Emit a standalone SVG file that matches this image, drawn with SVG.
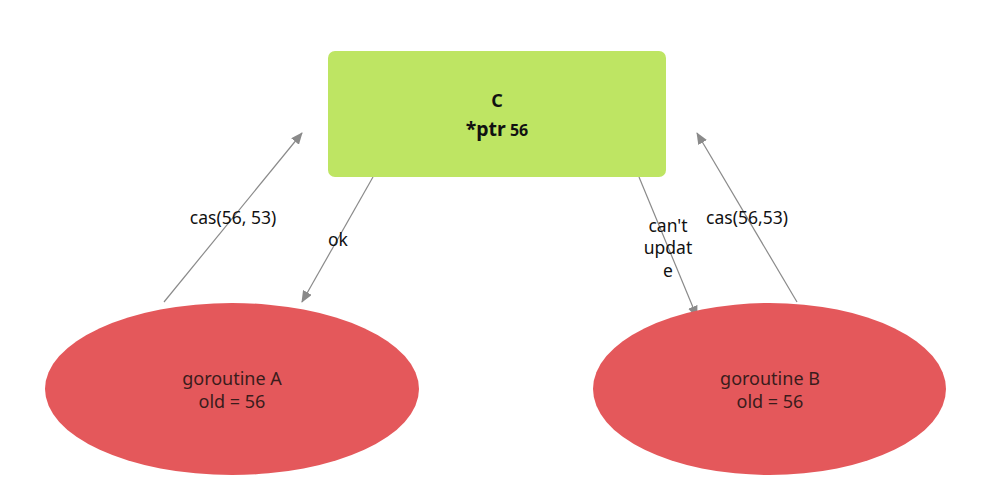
<svg xmlns="http://www.w3.org/2000/svg" width="988" height="490" viewBox="0 0 988 490">
<style>
.lbl{font-family:"Noto Sans","Open Sans","Liberation Sans",sans-serif;font-size:17.5px;fill:#111;text-anchor:middle}
.ntxt{font-family:"Noto Sans","Open Sans","Liberation Sans",sans-serif;font-size:18px;fill:#3a1c1c;text-anchor:middle}
.btxt{font-family:"Noto Sans","Open Sans","Liberation Sans",sans-serif;font-weight:bold;fill:#111;text-anchor:middle}
.edge{stroke:#8a8a8a;stroke-width:1.2;fill:none;marker-end:url(#ah)}
.ell{fill:#e4585b}
</style>
<defs>
<marker id="ah" viewBox="0 0 12 10" refX="11" refY="5" markerWidth="12" markerHeight="10" markerUnits="userSpaceOnUse" orient="auto">
<path d="M0,0 L12,5 L0,10 z" fill="#8a8a8a"/>
</marker>
</defs>
<rect width="988" height="490" fill="#ffffff"/>
<g id="connectors">
<line class="edge" x1="164" y1="302" x2="302" y2="133"/>
<line class="edge" x1="373" y1="177" x2="302" y2="302"/>
<line class="edge" x1="639" y1="177" x2="697" y2="317"/>
<line class="edge" x1="797" y1="302" x2="697" y2="133"/>
<text class="lbl" x="233" y="224">cas(56, 53)</text>
<text class="lbl" x="338" y="246">ok</text>
<text class="lbl" x="668" y="232">can't</text>
<text class="lbl" x="668" y="254">updat</text>
<text class="lbl" x="668" y="277">e</text>
<text class="lbl" x="747" y="224">cas(56,53)</text>
</g>
<g id="nodeC">
<rect x="328" y="51" width="338" height="126" rx="7" fill="#bee563"/>
<text class="btxt" x="497" y="107" font-size="18">C</text>
<text class="btxt" x="497" y="136"><tspan font-size="19.5">*ptr</tspan><tspan font-size="16"> 56</tspan></text>
</g>
<g id="nodeA">
<ellipse class="ell" cx="232" cy="389" rx="187" ry="86"/>
<text class="ntxt" x="232" y="385">goroutine A</text>
<text class="ntxt" x="232" y="408">old = 56</text>
</g>
<g id="nodeB">
<ellipse class="ell" cx="769.5" cy="389" rx="176.5" ry="86"/>
<text class="ntxt" x="770" y="385">goroutine B</text>
<text class="ntxt" x="770" y="408">old = 56</text>
</g>
</svg>
